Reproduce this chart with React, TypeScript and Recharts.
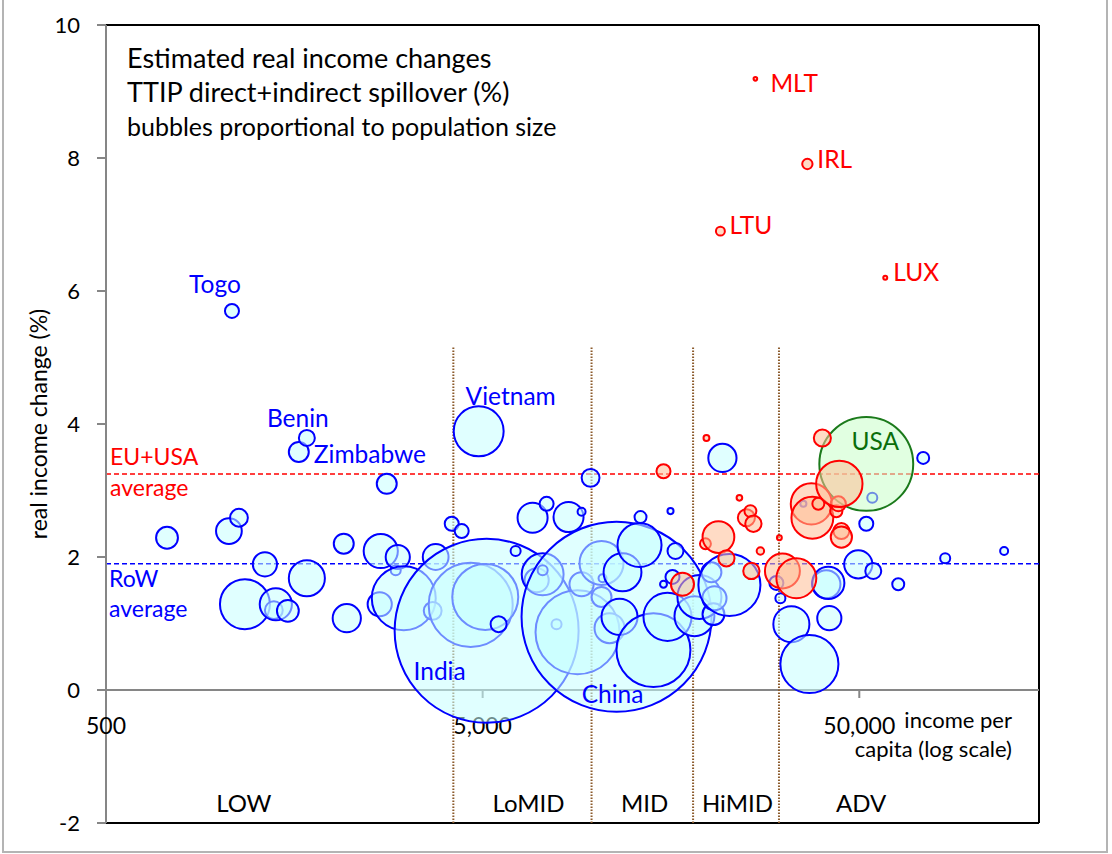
import React from "react";
import { ScatterChart, Scatter, XAxis, YAxis, ZAxis, ReferenceLine, ReferenceDot } from "recharts";

const FONT = "Lato, 'Noto Sans', sans-serif";

type Bubble = [number, number, number, string?];

// [income per capita, real income change %, population (m), label]
const rowBubbles: Bubble[] = [
  [726, 2.29, 18], [1060, 2.39, 25], [1080, 5.7, 7.4, "Togo"], [1127, 2.59, 12],
  [1169, 1.29, 94], [1321, 1.89, 22], [1395, 1.2, 12], [1412, 1.29, 39],
  [1520, 1.19, 18], [1625, 3.58, 15, "Zimbabwe"], [1707, 3.79, 9.6, "Benin"], [1707, 1.68, 49],
  [2139, 2.2, 15], [2179, 1.08, 30], [2665, 1.29, 22], [2682, 2.09, 44],
  [2782, 3.1, 15], [2939, 1.8, 3.8], [2976, 2.0, 22], [3087, 1.38, 154],
  [3684, 1.19, 12], [3752, 2.0, 25], [4139, 2.5, 7.4], [4399, 2.39, 7.4],
  [4647, 1.28, 266], [4880, 3.89, 94, "Vietnam"], [5080, 1.4, 164], [5123, 0.89, 1275, "India"],
  [5512, 0.99, 9.6], [6117, 2.09, 3.8], [6785, 2.59, 34], [6955, 1.65, 22],
  [7216, 1.74, 66], [7216, 1.8, 3.8], [7392, 2.8, 7.4], [7855, 0.99, 3.8],
  [8453, 2.6, 34], [8931, 0.87, 266], [9154, 2.68, 2.4], [9154, 1.59, 22],
  [9672, 3.19, 12], [10342, 1.91, 73], [10342, 1.4, 15], [10406, 1.68, 2.4],
  [10862, 0.93, 34], [11337, 1.1, 1360, "China"], [11544, 1.1, 49], [11758, 1.77, 54],
  [13046, 2.18, 73], [13126, 2.6, 5.4], [14205, 0.6, 206], [15105, 1.59, 1.8],
  [15479, 1.1, 87], [15766, 2.69, 1.4], [15959, 1.7, 7.4], [16255, 2.09, 9.6],
  [18250, 1.11, 60], [18815, 1.4, 73], [20250, 1.77, 15], [20500, 1.14, 18],
  [20625, 1.38, 22], [21655, 3.49, 30], [22600, 1.58, 145], [30115, 1.61, 7.4],
  [30863, 1.38, 3.8], [33008, 0.99, 49], [35520, 2.8, 1.4], [36857, 0.39, 127],
  [40871, 1.59, 30], [41370, 1.61, 39], [41626, 1.08, 22], [49690, 1.89, 30],
  [52180, 2.5, 7.4], [54130, 2.89, 3.8], [54461, 1.79, 9.6], [63440, 1.59, 5.4],
  [73900, 3.49, 5.4], [84530, 1.98, 3.8], [121200, 2.09, 2.4],
];

const euBubbles: Bubble[] = [
  [15105, 3.29, 7.4], [16964, 1.59, 20], [19520, 2.2, 4.5], [19640, 3.79, 1.3],
  [21135, 2.3, 38], [21390, 6.9, 3.0, "LTU"], [22190, 1.98, 9.9], [24025, 2.89, 1.2],
  [25075, 2.59, 11], [25696, 2.69, 5.4], [25850, 1.79, 10], [26170, 2.5, 10],
  [26490, 9.19, 0.5, "MLT"], [27315, 2.09, 2.1], [30675, 2.29, 0.9], [31249, 1.79, 46],
  [34030, 1.68, 60], [36400, 7.91, 4, "IRL"], [37305, 2.8, 64], [37530, 2.59, 66],
  [38923, 2.8, 5.4], [39895, 3.79, 11], [43450, 2.69, 5.6], [43989, 2.8, 8.5],
  [44254, 3.1, 81], [44810, 2.39, 9.6], [44810, 2.3, 17], [58600, 6.2, 0.6, "LUX"],
];

const usaBubbles: Bubble[] = [[52180, 3.4, 332, "USA"]];

const EU_USA_AVG = 3.25;
const ROW_AVG = 1.9;
const groupBreaks = [4180, 9730, 18100, 30600];
const groupNames = ["LOW", "LoMID", "MID", "HiMID", "ADV"];
const groupLabelAt = [1161, 6620, 13450, 23740, 50600];
const xTickValues = [500, 5000, 50000];
const yTicks = [-2, 0, 2, 4, 6, 8, 10];

// where each country name sits relative to its bubble
const labelPlace: Record<string, { dx: number; dy: number; anchor: "start" | "middle" }> = {
  Togo: { dx: -17, dy: -18, anchor: "middle" },
  Benin: { dx: -9, dy: -11, anchor: "middle" },
  Zimbabwe: { dx: 15, dy: 11, anchor: "start" },
  Vietnam: { dx: 32, dy: -26, anchor: "middle" },
  India: { dx: -47, dy: 49, anchor: "middle" },
  China: { dx: -4, dy: 86, anchor: "middle" },
  USA: { dx: 9, dy: -14, anchor: "middle" },
  MLT: { dx: 15, dy: 13, anchor: "start" },
  IRL: { dx: 10, dy: 4, anchor: "start" },
  LTU: { dx: 9, dy: 3, anchor: "start" },
  LUX: { dx: 8, dy: 3, anchor: "start" },
};

const BLUE = "#0000FF";
const RED = "#FF0000";
const GREEN = "#0A6E0A";

const toPoints = (rows: Bubble[], color: string) =>
  rows
    .map(([income, change, pop, name]) => ({ income, change, pop, name, color }))
    .sort((a, b) => a.income - b.income);

const rowPoints = toPoints(rowBubbles, BLUE);
const euPoints = toPoints(euBubbles, RED);
const usaPoints = toPoints(usaBubbles, GREEN);
const labelPoints = [...rowPoints, ...euPoints, ...usaPoints].filter((p) => p.name);

const makeBubble = (stroke: string, fill: string) => (p: any) => {
  const r = p.width ? p.width / 2 : Math.sqrt((p.size ?? 0) / Math.PI);
  return <circle cx={p.cx} cy={p.cy} r={r} fill={fill} fillOpacity={0.55} stroke={stroke} strokeWidth={2} />;
};

const NameLabel = (p: any) => {
  const d = p.payload;
  const place = labelPlace[d.name];
  return (
    <text x={p.cx + place.dx} y={p.cy + place.dy} textAnchor={place.anchor} fill={d.color} fontSize={24.5} fontFamily={FONT}>
      {d.name}
    </text>
  );
};

export default function App() {
  return (
    <div style={{ position: "absolute", left: 0, top: 0, width: 1112, height: 854, background: "#fff", fontFamily: FONT }}>
      <ScatterChart width={1112} height={854} margin={{ top: 25, right: 73, bottom: 31, left: 0 }}>
        <XAxis type="number" dataKey="income" scale="log" domain={[500, 150000]} hide allowDataOverflow />
        <YAxis
          type="number"
          dataKey="change"
          domain={[-2, 10]}
          ticks={yTicks}
          interval={0}
          width={106}
          tickSize={9}
          tickMargin={17}
          tick={{ fill: "#000", fontSize: 22, fontFamily: FONT }}
          tickLine={{ stroke: "#868686", strokeWidth: 2 }}
          axisLine={{ stroke: "#868686", strokeWidth: 2 }}
        />
        <ZAxis type="number" dataKey="pop" domain={[0, 1360]} range={[0, Math.PI * 95 * 95]} />

        <ReferenceLine y={10} stroke="#000" strokeWidth={2} />
        <ReferenceLine y={-2} stroke="#000" strokeWidth={2} />
        <ReferenceLine x={150000} stroke="#000" strokeWidth={2} />
        <ReferenceLine y={0} stroke="#868686" strokeWidth={2} />
        {xTickValues.slice(1).map((v) => (
          <ReferenceLine key={"t" + v} segment={[{ x: v, y: 0 }, { x: v, y: -0.12 }]} stroke="#868686" strokeWidth={2} />
        ))}
        {xTickValues.map((v) => (
          <ReferenceDot
            key={"x" + v}
            x={v}
            y={0}
            r={0}
            fill="none"
            stroke="none"
            label={(props: any) => (
              <text x={props.viewBox.x + props.viewBox.width / 2} y={props.viewBox.y + 44} textAnchor="middle" fontSize={23} fontFamily={FONT} fill="#000">
                {v.toLocaleString("en-US")}
              </text>
            )}
          />
        ))}

        {groupBreaks.map((v) => (
          <ReferenceLine key={"g" + v} segment={[{ x: v, y: -2 }, { x: v, y: 5.15 }]} stroke="#8B5A2B" strokeWidth={2} strokeDasharray="1.5 1.5" />
        ))}
        {groupNames.map((g, i) => (
          <ReferenceDot
            key={g}
            x={groupLabelAt[i]}
            y={-1.835}
            r={0}
            fill="none"
            stroke="none"
            label={(props: any) => (
              <text x={props.viewBox.x} y={props.viewBox.y} textAnchor="middle" fontSize={24} fontFamily={FONT} fill="#000">
                {g}
              </text>
            )}
          />
        ))}

        <Scatter data={rowPoints} shape={makeBubble(BLUE, "rgb(199,255,255)")} isAnimationActive={false} />
        <Scatter data={usaPoints} shape={makeBubble("#1B7A1B", "rgb(200,255,200)")} isAnimationActive={false} />
        <Scatter data={euPoints} shape={makeBubble(RED, "rgb(255,190,150)")} isAnimationActive={false} />

        <ReferenceLine
          y={EU_USA_AVG}
          stroke={RED}
          strokeWidth={1.5}
          strokeDasharray="5 3"
          label={(props: any) => (
            <g fontSize={23} fontFamily={FONT} fill={RED}>
              <text x={props.viewBox.x + 4} y={props.viewBox.y - 9}>EU+USA</text>
              <text x={props.viewBox.x + 4} y={props.viewBox.y + 22}>average</text>
            </g>
          )}
        />
        <ReferenceLine
          y={ROW_AVG}
          stroke={BLUE}
          strokeWidth={1.5}
          strokeDasharray="5 3"
          label={(props: any) => (
            <g fontSize={23} fontFamily={FONT} fill={BLUE}>
              <text x={props.viewBox.x + 3} y={props.viewBox.y + 23}>RoW</text>
              <text x={props.viewBox.x + 3} y={props.viewBox.y + 53}>average</text>
            </g>
          )}
        />

        <Scatter data={labelPoints} shape={NameLabel} isAnimationActive={false} />
      </ScatterChart>

      <svg width={1112} height={854} style={{ position: "absolute", left: 0, top: 0, pointerEvents: "none" }}>
        <rect x={3} y={-5} width={1104} height={857} fill="none" stroke="#B4B4B4" strokeWidth={2} />
        <g fontFamily={FONT} fill="#000">
          <text x={127} y={68} fontSize={27}>Estimated real income changes</text>
          <text x={127} y={102} fontSize={27}>TTIP direct+indirect spillover (%)</text>
          <text x={127} y={136} fontSize={25}>bubbles proportional to population size</text>
          <text x={1012} y={728} fontSize={22} textAnchor="end">income per</text>
          <text x={1012} y={757} fontSize={22} textAnchor="end">capita (log scale)</text>
          <text x={47} y={424} fontSize={23} textAnchor="middle" transform="rotate(-90 47 424)">real income change (%)</text>
        </g>
      </svg>
    </div>
  );
}
